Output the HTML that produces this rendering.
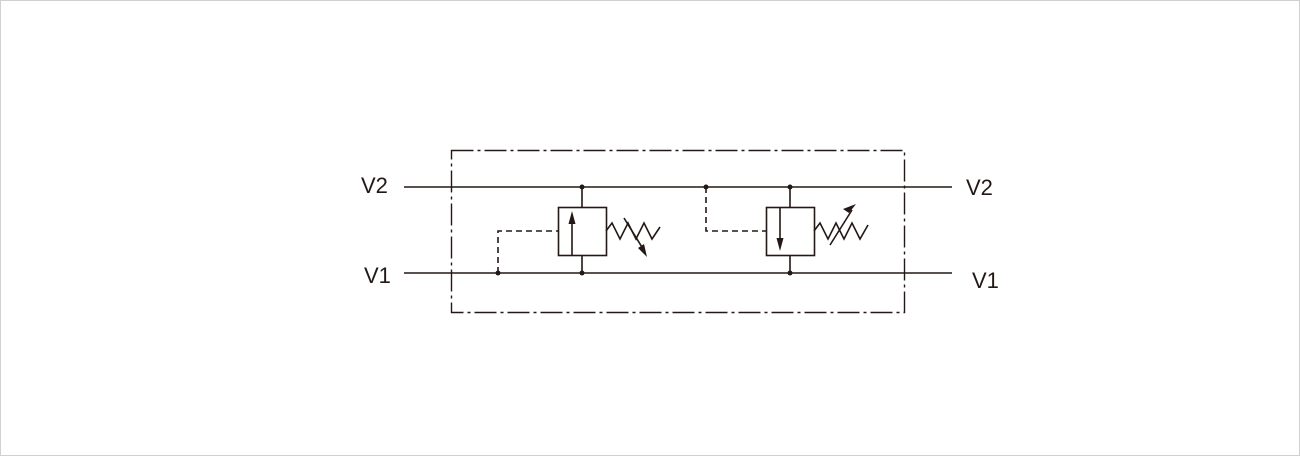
<!DOCTYPE html>
<html><head><style>
html,body{margin:0;padding:0;background:#fff;}
svg{display:block;}
text{font-family:"Liberation Sans",sans-serif;font-size:22px;fill:#231815;}
</style></head><body>
<svg width="1300" height="456" viewBox="0 0 1300 456">
<rect x="0.5" y="0.5" width="1299" height="455" fill="#fff" stroke="#d0d0d0"/>
<g stroke="#231815" stroke-width="1.6" fill="none">
<rect x="451.5" y="150.5" width="453" height="162" stroke-dasharray="22,4,3,4" stroke-width="1.4"/>
<line x1="404" y1="187" x2="952" y2="187"/>
<line x1="404" y1="273" x2="952" y2="273"/>
<!-- valve 1 -->
<line x1="582" y1="187" x2="582" y2="207"/>
<line x1="582" y1="255" x2="582" y2="273"/>
<rect x="558.5" y="207.5" width="48" height="48"/>
<line x1="572" y1="255" x2="572" y2="222"/>
<polyline points="606,231 612,223 620,239 628,223 636,239 644,223 652,239 660,227"/>
<line x1="624" y1="218" x2="645" y2="252"/>
<polyline points="498,273 498,231 558,231" stroke-dasharray="6,4"/>
<!-- valve 2 -->
<line x1="790" y1="187" x2="790" y2="207"/>
<line x1="790" y1="255" x2="790" y2="273"/>
<rect x="766.5" y="207.5" width="48" height="48"/>
<line x1="780" y1="208" x2="780" y2="240"/>
<polyline points="814,231 820,223 828,239 836,223 844,239 852,223 860,239 868,225"/>
<line x1="830" y1="245" x2="852" y2="210"/>
<polyline points="706,187 706,231 766,231" stroke-dasharray="6,4"/>
</g>
<g fill="#231815">
<polygon points="572,211 568.5,224 575.5,224"/>
<polygon points="780,251 776.5,238 783.5,238"/>
<polygon points="647,257 638,248 644,244"/>
<polygon points="856,204 849,213 843,209"/>
<circle cx="582" cy="187" r="2.5"/><circle cx="582" cy="273" r="2.5"/>
<circle cx="790" cy="187" r="2.5"/><circle cx="790" cy="273" r="2.5"/>
<circle cx="498" cy="273" r="2.5"/><circle cx="706" cy="187" r="2.5"/>
</g>
<text x="361" y="193">V2</text>
<text x="364" y="283">V1</text>
<text x="966" y="195">V2</text>
<text x="972" y="288">V1</text>
</svg>
</body></html>
